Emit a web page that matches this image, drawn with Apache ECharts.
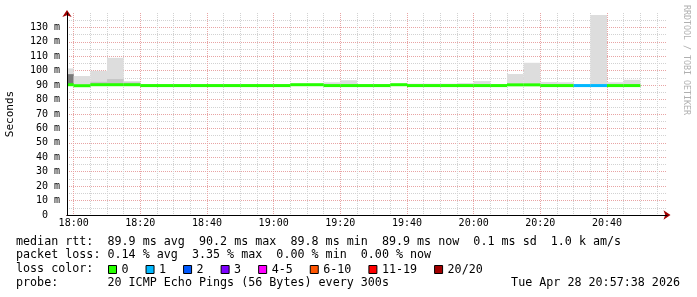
<!DOCTYPE html>
<html><head><meta charset="utf-8">
<script src="https://cdn.jsdelivr.net/npm/echarts@6/dist/echarts.min.js"></script>
<style>html,body{margin:0;padding:0;background:#fff}#c{width:697px;height:297px}</style>
</head><body><div id="c"></div>
<script>
// ---- data (ms), 5-minute bins, start times; last bin ends at binEndLast
const binStarts = ['17:58','18:00','18:05','18:10','18:15','18:20','18:25','18:30','18:35','18:40','18:45','18:50','18:55',
  '19:00','19:05','19:10','19:15','19:20','19:25','19:30','19:35','19:40','19:45','19:50','19:55',
  '20:00','20:05','20:10','20:15','20:20','20:25','20:30','20:35','20:40','20:45'];
const binEndLast = '20:50';
const medianMs = [90.3,89.6,90.3,90.3,90.3,89.7,89.7,89.7,89.7,89.7,89.7,89.7,89.7,
  89.7,90.3,90.3,89.7,89.7,89.7,89.7,90.3,89.7,89.7,89.7,89.7,
  89.7,89.7,90.2,90.2,89.7,89.7,89.7,89.7,89.7,89.7];
const maxMs = [101.6,96.3,99.9,108.9,92.8,90.6,90.6,90.6,90.6,90.6,90.6,90.6,90.6,
  90.6,91.0,91.0,92.0,93.4,90.6,90.6,91.0,91.0,91.0,91.0,91.4,
  92.8,90.6,97.7,105.5,92.2,92.0,90.6,138.7,92.0,93.7];
const bandMs = [97.6,89.6,92.3,94.2,91.9,89.7,89.7,89.7,89.7,89.7,89.7,89.7,89.7,
  89.7,90.3,90.3,89.7,89.7,89.7,89.7,90.3,89.7,89.7,89.7,89.7,
  89.7,89.7,90.2,90.2,89.7,89.7,89.7,89.7,89.7,89.7];
const darkMs = [97.6,89.6,90.3,90.3,90.3,89.7,89.7,89.7,89.7,89.7,89.7,89.7,89.7,
  89.7,90.3,90.3,89.7,89.7,89.7,89.7,90.3,89.7,89.7,89.7,89.7,
  89.7,89.7,90.2,90.2,89.7,89.7,89.7,89.7,89.7,89.7];
const lossPings = [0,0,0,0,0,0,0,0,0,0,0,0,0, 0,0,0,0,0,0,0,0,0,0,0,0, 0,0,0,0,0,0,1,1,0,0];
const lossClasses = ['0','1','2','3','4-5','6-10','11-19','20/20'];
const lossColors = ['#26ff00','#00b8ff','#0059ff','#7e00ff','#ff00ff','#ff5500','#ff0000','#a10000'];
const lossClassOf = [0,1,2,3,4,4,5,5,5,5,5,6,6,6,6,6,6,6,6,6,7];
const xTickLabels = ['18:00','18:20','18:40','19:00','19:20','19:40','20:00','20:20','20:40'];
const yTickLabels = ['0  ','10 m','20 m','30 m','40 m','50 m','60 m','70 m','80 m','90 m','100 m','110 m','120 m','130 m'];
const viewStart = '17:58', viewEnd = '20:58', tickBase = '18:00';
const rttLine = ['89.9 ms avg','90.2 ms max','89.8 ms min','89.9 ms now','0.1 ms sd','1.0 k am/s'];
const lossLine = ['0.14 % avg','3.35 % max','0.00 % min','0.00 % now'];
const probeText = '20 ICMP Echo Pings (56 Bytes) every 300s';
const dateText = 'Tue Apr 28 20:57:38 2026';

// ---- build
function toMin(t){const p=t.split(':');return (+p[0]-18)*60+(+p[1]);}
const xMin = toMin(viewStart), xMax = toMin(viewEnd);
const starts = binStarts.map(toMin);
const ends = starts.slice(1).concat([toMin(binEndLast)]);
const GL = 67, GW = 600, GT = 13, GH = 202;
const pxPerMin = GW/(xMax-xMin);
const bLeft = GL + (toMin(tickBase)-xMin)*pxPerMin;
const bWidth = (xMax-toMin(tickBase))*pxPerMin;
const MONO = '"DejaVu Sans Mono", monospace';

const smokeData = starts.map((s,i)=>[s, ends[i], medianMs[i]-0.6, darkMs[i], bandMs[i], maxMs[i]]);
function rectBetween(api, x0, x1, y0, y1, fill){
  const a = api.coord([x0,y1]), b = api.coord([x1,y0]);
  return {type:'rect', shape:{x:a[0], y:a[1], width:b[0]-a[0], height:b[1]-a[1]}, style:{fill:fill}};
}
const series = [{
  type:'custom', xAxisIndex:0, yAxisIndex:0, z:2, silent:true,
  data: smokeData,
  renderItem(params, api){
    const s=api.value(0), e=api.value(1), lo=api.value(2);
    return {type:'group', children:[
      rectBetween(api,s,e,lo,api.value(5),'#dddddd'),
      rectBetween(api,s,e,lo,api.value(4),'#c6c6c6'),
      rectBetween(api,s,e,lo,api.value(3),'#7a7a7a')
    ]};
  }
}];
lossClasses.forEach((name,ci)=>{
  const data=[];
  starts.forEach((s,i)=>{ if(lossClassOf[lossPings[i]]===ci) data.push([s, ends[i], medianMs[i]]); });
  series.push({
    type:'custom', name:name, xAxisIndex:0, yAxisIndex:0, z:3, silent:true,
    itemStyle:{color:lossColors[ci]},
    data:data,
    renderItem(params, api){
      const a=api.coord([api.value(0), api.value(2)]), b=api.coord([api.value(1), api.value(2)]);
      return {type:'rect', shape:{x:a[0], y:a[1]-1.5, width:b[0]-a[0], height:3}, style:{fill:lossColors[ci]}};
    }
  });
});

const txt = (x,y,text,extra)=>Object.assign({type:'text', x:x, y:y, silent:true,
  style:Object.assign({text:text, fill:'#000', font:'11.7px '+MONO, textVerticalAlign:'middle', verticalAlign:'middle', textAlign:'left', align:'left'}, extra||{})});

const option = {
  animation:false,
  backgroundColor:'#fff',
  grid:[
    {left:GL, top:GT, width:GW, height:GH, containLabel:false, outerBoundsMode:'none'},
    {left:bLeft, top:GT, width:bWidth, height:GH, containLabel:false, outerBoundsMode:'none'}
  ],
  xAxis:[
    {gridIndex:0, type:'value', min:xMin, max:xMax, z:10, position:'bottom',
     axisLine:{show:true, onZero:false, lineStyle:{color:'#000', width:1}},
     axisTick:{show:false}, axisLabel:{show:false}, splitLine:{show:false}},
    {gridIndex:0, type:'value', min:xMin, max:xMax, z:9, position:'bottom',
     axisLine:{show:true, onZero:false, symbol:['none','arrow'], symbolSize:[7,7], symbolOffset:[0,3.5], lineStyle:{color:'#a00000', width:1}},
     axisTick:{show:false}, axisLabel:{show:false}, splitLine:{show:false}},
    {gridIndex:1, type:'value', min:0, max:xMax-toMin(tickBase), interval:5, z:0, position:'bottom',
     axisLine:{show:false}, axisTick:{show:false}, axisLabel:{show:false},
     splitLine:{show:true, showMaxLine:false, lineStyle:{color:'#d2d2d2', width:1, type:[1,1]}}},
    {gridIndex:1, type:'value', min:0, max:xMax-toMin(tickBase), interval:20, z:1, position:'bottom',
     axisLine:{show:false}, axisTick:{show:false},
     axisLabel:{show:true, showMaxLabel:false, margin:3, fontFamily:MONO, fontSize:10, color:'#000',
       formatter:v=> (v%20===0 && xTickLabels[v/20]) ? xTickLabels[v/20] : ''},
     splitLine:{show:true, showMaxLine:false, lineStyle:{color:'#e8a4a4', width:1, type:[1,1]}}}
  ],
  yAxis:[
    {gridIndex:0, type:'value', min:0, max:140, interval:10, position:'left', z:10,
     axisLine:{show:true, onZero:false, lineStyle:{color:'#000', width:1}},
     axisTick:{show:false},
     axisLabel:{show:true, showMaxLabel:false, margin:7, fontFamily:MONO, fontSize:10, color:'#000',
       formatter:v=> yTickLabels[Math.round(v/10)] || ''},
     splitLine:{show:false},
     name:'Seconds', nameLocation:'middle', nameGap:51, nameRotate:90,
     nameTextStyle:{fontFamily:MONO, fontSize:11, color:'#000'}},
    {gridIndex:0, type:'value', min:0, max:140, position:'left', z:9,
     axisLine:{show:true, onZero:false, symbol:['none','arrow'], symbolSize:[7,7], symbolOffset:[0,3], lineStyle:{color:'#a00000', width:1}},
     axisTick:{show:false}, axisLabel:{show:false}, splitLine:{show:false}},
    {gridIndex:0, type:'value', min:0, max:140, interval:10, position:'left', z:0,
     axisLine:{show:false}, axisTick:{show:false}, axisLabel:{show:false},
     splitLine:{show:true, showMaxLine:false, showMinLine:false, lineStyle:{color:'#e8a4a4', width:1, type:[1,1]}},
     minorTick:{show:false, splitNumber:2},
     minorSplitLine:{show:true, lineStyle:{color:'#d2d2d2', width:1, type:[1,1]}}},
    {gridIndex:1, type:'value', min:0, max:140, show:false}
  ],
  legend:{
    left:108, top:262.5, padding:0, itemWidth:8, itemHeight:8, itemGap:17, icon:'rect', selectedMode:false,
    itemStyle:{borderColor:'#000', borderWidth:1},
    textStyle:{fontFamily:MONO, fontSize:11.7, color:'#000', lineHeight:14},
    data:lossClasses
  },
  graphic:[
    txt(16, 241.5, 'median rtt:  ' + rttLine.join('  ')),
    txt(16, 255.3, 'packet loss: ' + lossLine.join('  ')),
    txt(16, 269.2, 'loss color:'),
    txt(16, 283, 'probe:       ' + probeText),
    txt(680, 283, dateText, {textAlign:'right', align:'right'}),
    {type:'text', x:686, y:5, rotation:-Math.PI/2, silent:true,
     style:{text:'RRDTOOL / TOBI OETIKER', fill:'#b0b0b0', font:'8.3px '+MONO, textAlign:'left', align:'left', textVerticalAlign:'middle', verticalAlign:'middle'}}
  ],
  series:series
};
const chart = echarts.init(document.getElementById('c'), null, {renderer:'canvas'});
chart.setOption(option);
</script>
</body></html>
